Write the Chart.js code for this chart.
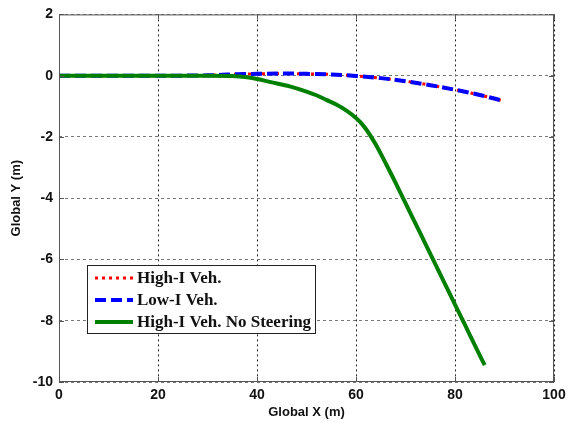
<!DOCTYPE html>
<html>
<head>
<meta charset="utf-8">
<script src="https://cdn.jsdelivr.net/npm/chart.js@4"></script>
<style>
  html, body { margin: 0; padding: 0; background: #fff; }
  #wrap { width: 568px; height: 421px; }
</style>
</head>
<body>
<div id="wrap"><canvas id="chart"></canvas></div>
<script>
// path of the vehicles
const highX = [0, 10, 20, 30, 33, 36, 40, 45, 50, 55, 60, 65, 70, 75, 80, 85, 89.7];
const highY = [0, 0, 0, 0.01, 0.03, 0.05, 0.06, 0.07, 0.06, 0.04, -0.01, -0.08, -0.18, -0.31, -0.46, -0.63, -0.82];

const lowX = [0, 10, 20, 30, 33, 36, 40, 45, 50, 55, 60, 65, 70, 75, 80, 85, 89.7];
const lowY = [0, 0, 0, 0.01, 0.03, 0.05, 0.06, 0.07, 0.06, 0.04, -0.01, -0.08, -0.18, -0.31, -0.46, -0.63, -0.82];

const noSteerX = [0, 10, 20, 30, 35, 38, 40, 43, 46.6, 50, 52, 54, 56, 58, 60, 61, 62, 63, 64, 66, 68, 70, 73, 76, 79, 82, 84, 86];
const noSteerY = [0, 0, 0, 0, -0.01, -0.05, -0.11, -0.22, -0.35, -0.52, -0.64, -0.79, -0.94, -1.13, -1.38, -1.54, -1.74, -1.98, -2.25, -2.86, -3.5, -4.16, -5.15, -6.14, -7.14, -8.13, -8.8, -9.45];

const xTicks = [0, 20, 40, 60, 80, 100];
const yTicks = [2, 0, -2, -4, -6, -8, -10];

const labels = ['High-I Veh.', 'Low-I Veh.', 'High-I Veh. No Steering'];

function pts(xs, ys) {
  return xs.map((x, i) => ({x: x, y: ys[i]}));
}

const tickFont = {family: 'Liberation Sans, Arial', size: 14, weight: 'bold'};

// box, inward ticks and the legend inside the axes (matlab style)
const framePlugin = {
  id: 'frame',
  afterDraw(chart) {
    const ctx = chart.ctx;
    const a = chart.chartArea;
    const xs = chart.scales.x, ys = chart.scales.y;
    ctx.save();
    ctx.strokeStyle = '#555';
    ctx.lineWidth = 1;
    ctx.strokeRect(a.left + 0.5, a.top + 0.5, a.right - a.left - 1, a.bottom - a.top - 1);
    ctx.beginPath();
    xTicks.forEach(v => {
      const px = Math.round(xs.getPixelForValue(v)) + 0.5;
      ctx.moveTo(px, a.bottom); ctx.lineTo(px, a.bottom - 5);
      ctx.moveTo(px, a.top); ctx.lineTo(px, a.top + 5);
    });
    yTicks.forEach(v => {
      const py = Math.round(ys.getPixelForValue(v)) + 0.5;
      ctx.moveTo(a.left, py); ctx.lineTo(a.left + 5, py);
      ctx.moveTo(a.right, py); ctx.lineTo(a.right - 5, py);
    });
    ctx.stroke();

    // legend
    const lx = a.left + 28, ly = a.bottom - 117, lw = 228, lh = 68;
    ctx.fillStyle = '#fff';
    ctx.fillRect(lx, ly, lw, lh);
    ctx.strokeStyle = '#222';
    ctx.strokeRect(lx + 0.5, ly + 0.5, lw, lh);
    ctx.font = 'bold 17px "Liberation Serif", "Times New Roman", serif';
    ctx.textBaseline = 'middle';
    chart.data.datasets.forEach((ds, i) => {
      const yy = ly + 13 + i * 22;
      ctx.beginPath();
      ctx.strokeStyle = ds.borderColor;
      ctx.lineWidth = ds.borderWidth;
      ctx.setLineDash(ds.borderDash || []);
      ctx.moveTo(lx + 8, yy);
      ctx.lineTo(lx + 46, yy);
      ctx.stroke();
      ctx.setLineDash([]);
      ctx.fillStyle = '#111';
      ctx.fillText(ds.label, lx + 50, yy + 1);
    });
    ctx.restore();
  }
};

new Chart('chart', {
  type: 'line',
  data: {
    datasets: [
      {
        label: labels[0],
        data: pts(highX, highY),
        borderColor: '#ff0000',
        borderWidth: 3,
        borderDash: [3, 4],
        order: 3
      },
      {
        label: labels[1],
        data: pts(lowX, lowY),
        borderColor: '#0000ff',
        borderWidth: 4,
        borderDash: [11, 5],
        order: 2
      },
      {
        label: labels[2],
        data: pts(noSteerX, noSteerY),
        borderColor: '#008000',
        borderWidth: 4,
        order: 1
      }
    ]
  },
  options: {
    responsive: true,
    maintainAspectRatio: false,
    animation: false,
    elements: {
      point: {radius: 0},
      line: {cubicInterpolationMode: 'monotone', fill: false}
    },
    layout: {padding: {top: 11, right: 0, left: 9, bottom: 0}},
    plugins: {
      legend: {display: false},
      tooltip: {enabled: false}
    },
    scales: {
      x: {
        type: 'linear',
        min: 0,
        max: 100,
        afterBuildTicks: s => { s.ticks = xTicks.map(v => ({value: v})); },
        afterFit: s => { s.height = 39; s.paddingRight = 14; },
        border: {display: false, dash: [2, 3]},
        grid: {
          color: '#222',
          lineWidth: 1,
          drawTicks: false
        },
        ticks: {color: '#111', font: tickFont, padding: 5, maxRotation: 0},
        title: {
          display: true,
          text: 'Global X (m)',
          color: '#111',
          font: {family: 'Liberation Sans, Arial', size: 13, weight: 'bold'},
          padding: {top: 0, bottom: 1}
        }
      },
      y: {
        type: 'linear',
        min: -10,
        max: 2,
        afterBuildTicks: s => { s.ticks = yTicks.map(v => ({value: v})); },
        afterFit: s => { s.width = 50; },
        border: {display: false, dash: [3, 3]},
        grid: {
          color: '#777',
          lineWidth: 1,
          drawTicks: false
        },
        ticks: {color: '#111', font: tickFont, padding: 6},
        title: {
          display: true,
          text: 'Global Y (m)',
          color: '#111',
          font: {family: 'Liberation Sans, Arial', size: 13, weight: 'bold'},
          padding: {top: 0, bottom: 2}
        }
      }
    }
  },
  plugins: [framePlugin]
});
</script>
</body>
</html>
